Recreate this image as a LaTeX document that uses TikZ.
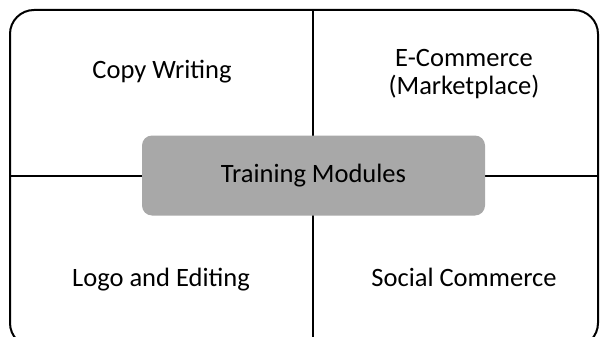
\documentclass[tikz,border=0pt]{standalone}
\usepackage{fontspec}
\setmainfont{Carlito}
\begin{document}
\begin{tikzpicture}[x=1pt,y=-1pt,
  label/.style={font=\fontsize{26.5}{28}\selectfont, align=center, text=black, inner sep=0pt},
  hub/.style={fill=black!34, rounded corners=10pt, minimum width=343pt, minimum height=80pt, font=\fontsize{26.5}{28}\selectfont},
  divider/.style={line width=2pt}]
\useasboundingbox (0,0) rectangle (608,337);
\clip (0,0) rectangle (608,337);
\draw[line width=2pt, rounded corners=24pt] (10,10) rectangle (598,347);
\coordinate (top) at (313,10);
\coordinate (bottom) at (313,340);
\coordinate (left) at (10,176);
\coordinate (right) at (598,176);
\draw[divider] (top) -- (bottom);
\draw[divider] (left) -- (right);
\node[hub] (hub) at (313.5,175.5) {Training Modules};
\node[label, anchor=base] (cw) at (162,78) {Copy Writing};
\node[label] (ec) at (464,74) {E-Commerce\\(Marketplace)};
\node[label, anchor=base] (le) at (161,286.5) {Logo and Editing};
\node[label, anchor=base] (sc) at (464,286) {Social Commerce};
\end{tikzpicture}
\end{document}
